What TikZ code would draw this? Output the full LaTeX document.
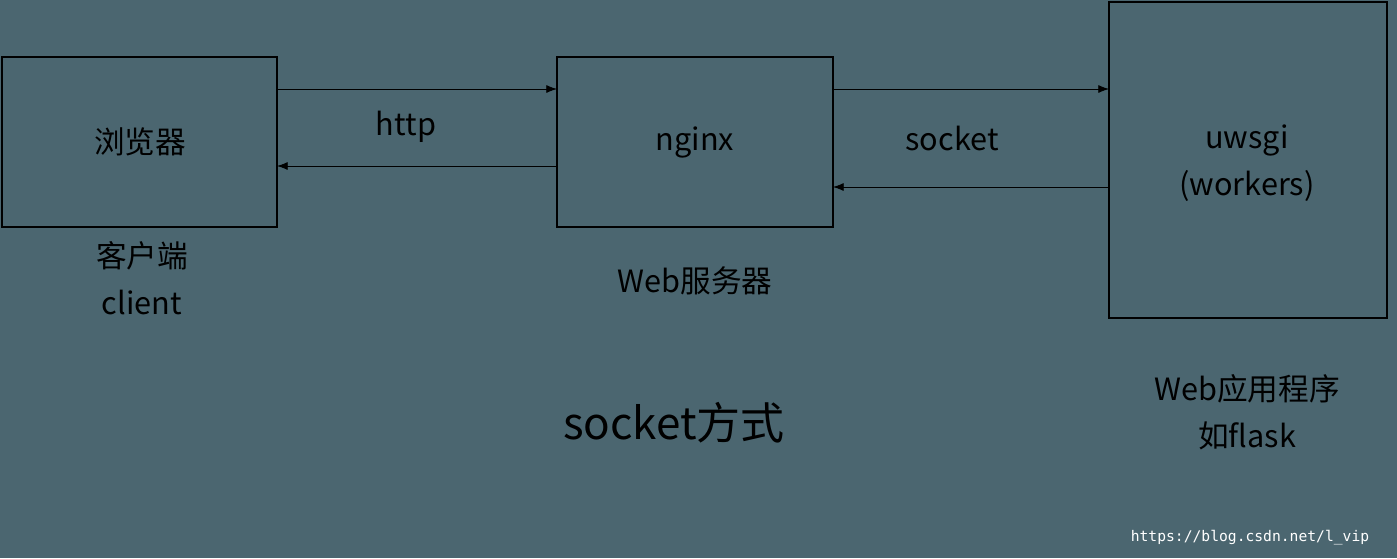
\documentclass[tikz,border=0pt]{standalone}
\usepackage{fontspec}
\setmainfont{Noto Sans CJK SC}
\setmonofont{DejaVu Sans Mono}
\definecolor{bgslate}{RGB}{75,102,112}
\usetikzlibrary{arrows.meta}
\tikzset{every picture/.style={line width=0.75pt}}
\tikzset{
  box/.style={draw=black, line width=1pt},
  lbl/.style={inner sep=0.75pt, font=\fontsize{23}{35}\selectfont, align=center},
  link/.style={-{Latex[length=8pt,width=6pt]}, line width=0.6pt}
}

\begin{document}
\begin{tikzpicture}[x=0.75pt,y=0.75pt,yscale=-1,xscale=1]
\fill[bgslate] (0,0) rectangle (1397,558);
\useasboundingbox (0,0) rectangle (1397,558);

% boxes
\draw[box] (2,57) rectangle (277,227);
\draw[box] (557,57) rectangle (833,227);
\draw[box] (1109,2) rectangle (1387,318);

% coordinates on box edges
\coordinate (bR1) at (277,89);
\coordinate (bR2) at (277,166);
\coordinate (nL1) at (557,89);
\coordinate (nL2) at (557,166);
\coordinate (nR1) at (833,89);
\coordinate (nR2) at (833,187);
\coordinate (uL1) at (1109,89);
\coordinate (uL2) at (1109,187);

\draw[link] (bR1) -- (nL1);
\draw[link] (nL2) -- (bR2);
\draw[link] (nR1) -- (uL1);
\draw[link] (uL2) -- (nR2);

% Text Node
\draw (140,142) node [lbl] (browser) {浏览器};
\draw (406,127) node [lbl] (http) {http};
\draw (695,142) node [lbl] (nginx) {nginx};
\draw (952,138) node [lbl] (sock) {socket};
\draw (1247,163) node [lbl] (uwsgi) {uwsgi\\(workers)};
\draw (142,278) node [lbl] (client) {客户端\\client};
\draw (695,281) node [lbl] (websrv) {Web服务器};
\draw (674,423) node [lbl, font=\fontsize{33}{38}\selectfont] (mode) {socket方式};
\draw (1247,412) node [lbl] (webapp) {Web应用程序\\如flask};
\draw (1250,538) node [inner sep=0pt, text=white, font=\ttfamily\fontsize{11}{13}\selectfont] (mark) {https://blog.csdn.net/l\_vip};
\end{tikzpicture}
\end{document}
